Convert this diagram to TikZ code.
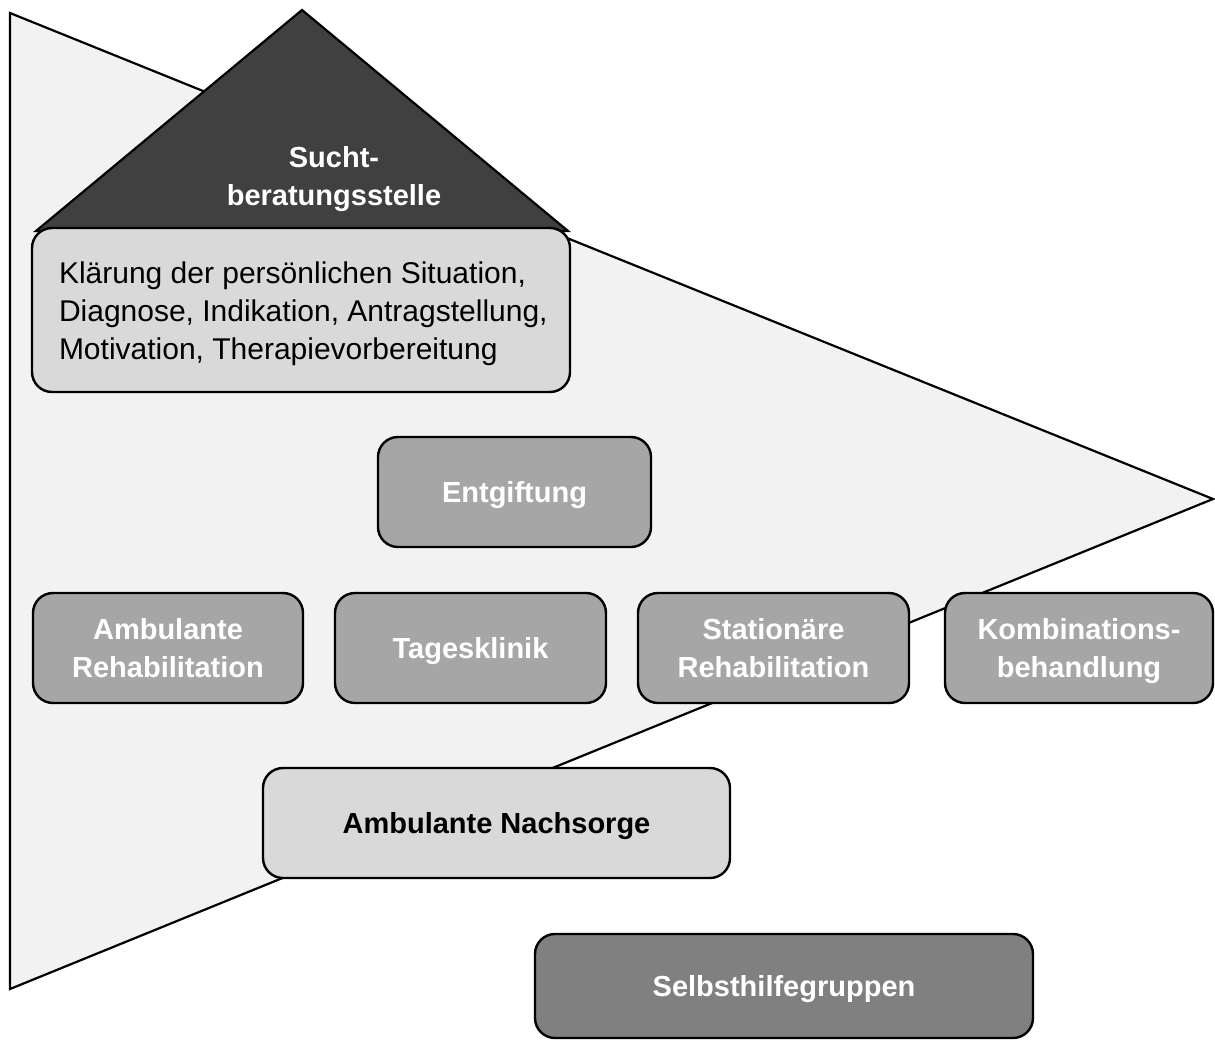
\documentclass[tikz,border=0pt]{standalone}
\usepackage{fontspec}
\setmainfont{Liberation Sans}
% line strut that centres capitals in a box
\newcommand\capline{\rule[-8.6pt]{0pt}{38pt}}
\begin{document}
\begin{tikzpicture}[x=1pt,y=-1pt,
  outline/.style={draw=black,line width=2.2pt,line join=miter},
  stage/.style={draw=black,line width=2.4pt,rounded corners=20pt,align=center,
    font=\fontsize{29}{38}\selectfont\bfseries,inner sep=0pt},
  midgray/.style={stage,fill=gray65,text=white},
  lightbox/.style={stage,fill=gray85,text=black}]
\definecolor{gray95}{HTML}{F2F2F2}
\definecolor{gray85}{HTML}{D9D9D9}
\definecolor{gray65}{HTML}{A6A6A6}
\definecolor{gray50}{HTML}{808080}
\definecolor{gray25}{HTML}{404040}
\useasboundingbox (0,0) rectangle (1215,1041);
% large background wedge
\draw[outline,fill=gray95] (10,13) -- (1213,499) -- (10,989) -- cycle;
% roof of the counselling centre
\draw[outline,fill=gray25] (302,10) -- (568,231) -- (36,231) -- cycle;
\node[text=white,align=center,font=\fontsize{29}{38}\selectfont\bfseries] (roof) at (334,179) {Sucht-\\beratungsstelle};
% counselling tasks
\node[stage,fill=gray85,minimum width=538pt,minimum height=164pt] (tasks) at (301,310) {};
\node[anchor=west,align=left,inner sep=0pt,font=\fontsize{30}{38}\selectfont] (taskstext)
  at ([xshift=28pt,yshift=-4pt]tasks.west)
  {Klärung der persönlichen Situation,\\Diagnose, Indikation, Antragstellung,\\Motivation, Therapievorbereitung};
% treatment stages
\node[midgray,minimum width=273pt,minimum height=110pt] (detox) at (514.5,492) {\capline Entgiftung};
\node[midgray,minimum width=270pt,minimum height=110pt] (amb) at (168,648) {\capline Ambulante\\\capline Rehabilitation};
\node[midgray,minimum width=271pt,minimum height=110pt] (day) at (470.5,648) {\capline Tagesklinik};
\node[midgray,minimum width=271pt,minimum height=110pt] (stat) at (773.5,648) {\capline Stationäre\\\capline Rehabilitation};
\node[midgray,minimum width=268pt,minimum height=110pt] (comb) at (1079,648) {\capline Kombinations-\\\capline behandlung};
\node[lightbox,minimum width=467pt,minimum height=110pt] (after) at (496.5,823) {\capline Ambulante Nachsorge};
\node[stage,fill=gray50,text=white,minimum width=498pt,minimum height=104pt] (self) at (784,986) {\capline Selbsthilfegruppen};
\end{tikzpicture}
\end{document}
